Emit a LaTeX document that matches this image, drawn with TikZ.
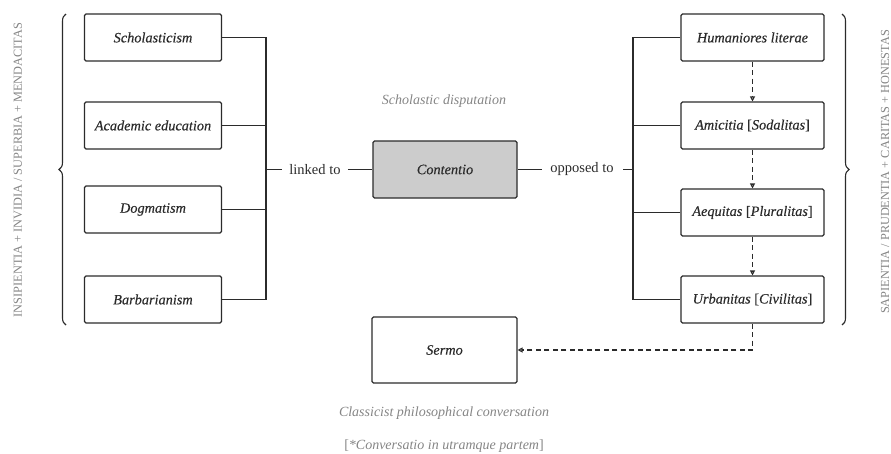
\documentclass[tikz,border=0pt]{standalone}
\usepackage{fontspec}
\setmainfont{Liberation Serif}
\newfontfamily\boxfont[FakeBold=0.35]{Liberation Serif}
\usetikzlibrary{arrows.meta,decorations.pathreplacing}
\definecolor{ink}{HTML}{2B2B2B}
\definecolor{soft}{HTML}{858585}
\definecolor{boxfill}{HTML}{CCCCCC}
\tikzset{
  itembox/.style={draw=ink, line width=1.1pt, rounded corners=1.5pt, minimum width=137pt, minimum height=47pt, inner sep=0pt, font=\boxfont\fontsize{14.3}{16}\selectfont\itshape, text=ink},
  ritembox/.style={itembox, minimum width=143pt},
  bus/.style={draw=ink, line width=1.1pt},
  dashconn/.style={draw=ink, line width=1.1pt, dash pattern=on 5pt off 3.5pt, -{Triangle[open,length=5pt,width=5pt]}},
  conntext/.style={font=\fontsize{14.5}{16}\selectfont, text=ink, inner sep=0pt},
  graytext/.style={font=\fontsize{14}{16}\selectfont\itshape, text=soft, inner sep=0pt},
  sidetext/.style={font=\fontsize{12.3}{14}\selectfont, text=soft, rotate=90, inner sep=0pt},
  bracestyle/.style={draw=ink, line width=1.1pt, decorate, decoration={brace, amplitude=7pt}}
}
\begin{document}
\begin{tikzpicture}[x=1pt,y=-1pt]
\useasboundingbox (0,0) rectangle (891,453);
% left column
\node[itembox] (s1) at (153,37.5) {Scholasticism};
\node[itembox] (s2) at (153,125.5) {Academic education};
\node[itembox] (s3) at (153,209.5) {Dogmatism};
\node[itembox] (s4) at (153,299.5) {Barbarianism};
% right column
\node[ritembox] (h1) at (752.5,37.5) {Humaniores literae};
\node[ritembox] (h2) at (752.5,125.5) {Amicitia \textup{[}Sodalitas\textup{]}};
\node[ritembox] (h3) at (752.5,212.5) {Aequitas \textup{[}Pluralitas\textup{]}};
\node[ritembox] (h4) at (752.5,299.5) {Urbanitas \textup{[}Civilitas\textup{]}};
% center
\node[itembox, fill=boxfill, minimum width=144pt, minimum height=57pt] (c) at (445,169.5) {Contentio};
\node[itembox, minimum width=145pt, minimum height=66pt] (sermo) at (444.5,350) {Sermo};
\node[graytext] (sd) at (444,101) {Scholastic disputation};
\node[graytext] (cp) at (444,413) {Classicist philosophical conversation};
\node[graytext] (cu) at (444,446) {\textup{[}*Conversatio in utramque partem\textup{]}};
\node[conntext] (lk) at (315,169.5) {linked to};
\node[conntext] (op) at (582,169.5) {opposed to};
% buses
\coordinate (lb) at (266,169.5);
\coordinate (rb) at (633,169.5);
\draw[bus] (s1.east) -| (lb |- s4.east) -- (s4.east);
\draw[bus] (s2.east) -- (s2.east -| lb);
\draw[bus] (s3.east) -- (s3.east -| lb);
\draw[bus] (lb) -- ([xshift=-7pt]lk.west);
\draw[bus] ([xshift=7pt]lk.east) -- (c.west);
\draw[bus] (h1.west) -| (rb |- h4.west) -- (h4.west);
\draw[bus] (h2.west) -- (h2.west -| rb);
\draw[bus] (h3.west) -- (h3.west -| rb);
\draw[bus] (rb) -- ([xshift=9pt]op.east);
\draw[bus] (c.east) -- ([xshift=-8pt]op.west);
% dashed arrows
\draw[dashconn] (h1.south) -- (h2.north);
\draw[dashconn] (h2.south) -- (h3.north);
\draw[dashconn] (h3.south) -- (h4.north);
\draw[dashconn] (h4.south) |- (sermo.east);
% braces
\coordinate (lbA) at (66,325);
\coordinate (lbB) at (66,14);
\coordinate (rbA) at (842,14);
\coordinate (rbB) at (842,325);
\draw[bracestyle] (lbA) -- (lbB);
\draw[bracestyle] (rbA) -- (rbB);
\node[sidetext] (lt) at (18,170) {INSIPIENTIA + INVIDIA / SUPERBIA + MENDACITAS};
\node[sidetext] (rt) at (885,172) {SAPIENTIA / PRUDENTIA + CARITAS + HONESTAS};
\end{tikzpicture}
\end{document}
